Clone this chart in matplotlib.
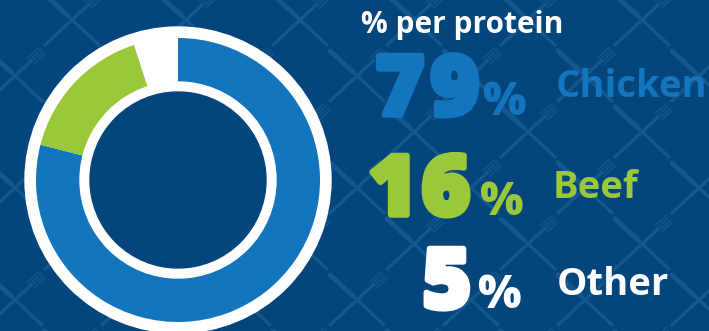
import numpy as np
import matplotlib.pyplot as plt
import matplotlib.patheffects as pe
from matplotlib.patches import Circle

# share of each protein
labels = ['Chicken', 'Beef', 'Other']
shares = [79, 16, 5]
colors = ['#1275bd', '#9bc83b', '#ffffff']

W, H = 709, 331
BG = '#04457c'
PATTERN = '#17578f'

fig = plt.figure(figsize=(W / 100, H / 100), dpi=100)
fig.patch.set_facecolor(BG)
ax = fig.add_axes([0, 0, 1, 1])


def Y(y):
    # image rows run downward, axes y runs upward
    return H - y


# background of crossed knives and forks
for i in range(-2, 14):
    for j in range(-1, 8):
        if (i + j) % 2:
            continue
        cx = 72 + 57 * i
        cy = 20 + 56 * j
        # knife: blade upper left, handle lower right
        ax.plot([cx - 27, cx - 4], [Y(cy - 25), Y(cy - 4)], color=PATTERN,
                lw=3.6, solid_capstyle='round', zorder=1)
        ax.plot([cx - 4, cx + 27], [Y(cy - 4), Y(cy + 25)], color=PATTERN,
                lw=2.4, solid_capstyle='round', zorder=1)
        # fork: handle lower left, tines upper right
        ax.plot([cx - 27, cx + 16], [Y(cy + 25), Y(cy - 15)], color=PATTERN,
                lw=2.4, solid_capstyle='round', zorder=1)
        for k in np.linspace(-4.5, 4.5, 4):
            ax.plot([cx + 16 + k * 0.7, cx + 27 + k * 0.7],
                    [Y(cy - 15 + k * 0.7), Y(cy - 25 + k * 0.7)],
                    color=PATTERN, lw=1.0, zorder=1)

# donut
cx, cy = 178, Y(180)
ax.add_patch(Circle((cx, cy), 153, color='white', zorder=2))
ax.pie(shares, colors=colors, startangle=90, counterclock=False,
       center=(cx, cy), radius=142, frame=True,
       wedgeprops=dict(width=44, linewidth=0, zorder=3))
ax.add_patch(Circle((cx, cy), 98, color='white', zorder=4))
ax.add_patch(Circle((cx, cy), 88, color=BG, zorder=5))
ax.set_xlim(0, W)
ax.set_ylim(0, H)
ax.set_aspect('equal')
ax.axis('off')

# text block
num_font = dict(family=['Open Sans', 'DejaVu Sans'], fontweight='heavy')
lab_font = dict(family=['Open Sans', 'DejaVu Sans'], fontweight='bold')

ax.text(361, Y(33), '% per protein', color='white', fontsize=21.5,
        va='baseline', ha='left', zorder=6, **lab_font)

rows = [
    # digit centres, x of %, baseline, label x, label baseline
    ((400, 455), 482, 115, 556, 97),
    ((393, 446), 479, 215, 553, 198),
    ((447,), 477, 308, 557, 295),
]
for (share, lab, col, row) in zip(shares, labels, colors, rows):
    dxs, px, base, lx, lbase = row
    for ch, dx in zip(str(share), dxs):
        ax.text(dx, Y(base), ch, color=col, fontsize=60,
                va='baseline', ha='center', zorder=6, **num_font,
                path_effects=[pe.Stroke(linewidth=4, foreground=col),
                              pe.Normal()])
    ax.text(px, Y(base), '%', color=col, fontsize=33,
            va='baseline', ha='left', zorder=6, **num_font)
    ax.text(lx, Y(lbase), lab, color=col, fontsize=27.5,
            va='baseline', ha='left', zorder=6, **lab_font)

fig.savefig('out.png', dpi=100, facecolor=BG)
